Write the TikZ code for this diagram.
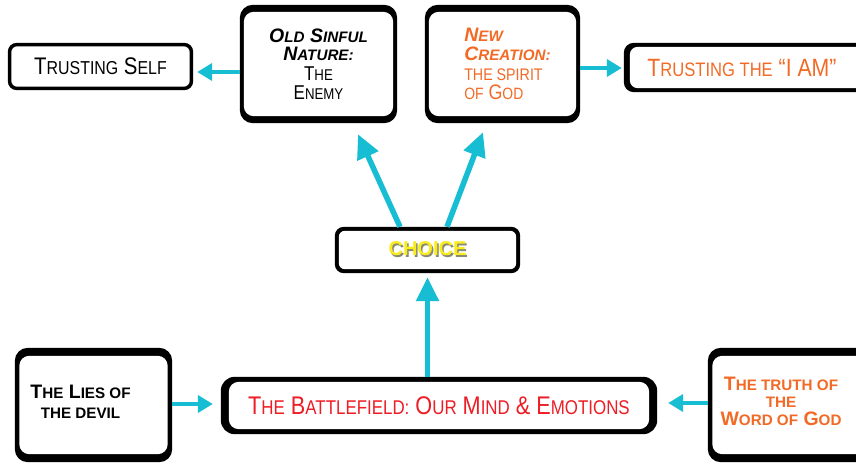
\documentclass[tikz,border=0pt]{standalone}
\usepackage{fontspec}
\setmainfont{Liberation Sans}
\newfontfamily\cond[FakeStretch=0.85]{Liberation Sans}
\usetikzlibrary{arrows.meta}
\definecolor{cy}{HTML}{17BDD3}
\definecolor{org}{HTML}{F26A25}
\definecolor{rd}{HTML}{EE1C24}
\definecolor{chy}{HTML}{F8EC1C}
\definecolor{shd}{HTML}{8A8A70}
\makeatletter
\newcommand\sm[1]{{\fontsize{\the\dimexpr0.78\dimexpr\f@size pt\relax\relax}{\f@baselineskip}\selectfont #1}}
\makeatother
\pgfdeclarelayer{bg}
\pgfsetlayers{bg,main}
% name, left, top, right, bottom band widths, south-west shift, north-east shift, outer radius, inner radius
\newcommand\frm[9]{%
  \fill[black,rounded corners=#8] ([shift={(#6)}]#1.south west) rectangle ([shift={(#7)}]#1.north east);
  \fill[white,rounded corners=#9] ([shift={(#6)},xshift=#2,yshift=#5]#1.south west) rectangle ([shift={(#7)},xshift=-#4,yshift=-#3]#1.north east);}
\begin{document}
\begin{tikzpicture}[x=1pt,y=-1pt,
  bx/.style={inner sep=0pt, align=center},
  arr/.style={draw=cy, line width=4.5pt, -{Triangle[length=15pt,width=17pt]}},
  arrb/.style={draw=cy, line width=5.5pt, -{Triangle[length=24pt,width=22pt]}}]
\useasboundingbox (0,0) rectangle (856,463);

\node[bx, minimum width=185pt, minimum height=47pt, font=\cond\fontsize{24}{28}\selectfont] (ts) at (100.5,66.5) {T\sm{RUSTING} S\sm{ELF}};

\node[bx, minimum width=157pt, minimum height=118pt, font=\fontsize{19.5}{18.5}\selectfont] (osn) at (318.5,64)
  {{\bfseries\itshape O\sm{LD} S\sm{INFUL}}\\{\bfseries\itshape N\sm{ATURE:}}\\[1.5pt]{\cond\fontsize{20}{18.5}\selectfont T\sm{HE}}\\{\cond\fontsize{20}{18.5}\selectfont E\sm{NEMY}}};

\node[bx, align=left, minimum width=145pt, minimum height=118pt, text=org, font=\fontsize{19.5}{18.5}\selectfont] (nc) at (507.5,64)
  {{\bfseries\itshape N\sm{EW}}\\{\bfseries\itshape C\sm{REATION:}}\\[1.5pt]{\cond\fontsize{21.5}{18.5}\selectfont\sm{THE SPIRIT}}\\[1pt]{\cond\fontsize{21}{18.5}\selectfont\sm{OF} G\sm{OD}}};

\node[bx, minimum width=236pt, minimum height=49pt, text=org, font=\cond\fontsize{25}{28}\selectfont] (tia) at (742,67.5) {T\sm{RUSTING THE} “I AM”};

\node[bx, minimum width=185pt, minimum height=46pt, font=\bfseries\fontsize{20}{24}\selectfont] (ch) at (427.5,250)
  {\rlap{\kern1.5pt\raisebox{-1.8pt}{\textcolor{shd}{CHOICE}}}\textcolor{chy}{CHOICE}};

\node[bx, minimum width=131pt, minimum height=114pt, font=\bfseries\fontsize{19.5}{20}\selectfont] (lies) at (80.5,402)
  {T\sm{HE} L\sm{IES OF}\\\sm{THE DEVIL}};

\node[bx, minimum width=146pt, minimum height=114pt, text=org, font=\bfseries\fontsize{19.5}{17.5}\selectfont] (truth) at (781,401)
  {T\sm{HE TRUTH OF}\\\sm{THE}\\W\sm{ORD OF} G\sm{OD}};

\node[bx, minimum width=436pt, minimum height=57pt, text=rd, font=\cond\fontsize{25.5}{28}\selectfont] (bf) at (439,405.5)
  {T\sm{HE} B\sm{ATTLEFIELD:} O\sm{UR} M\sm{IND} \& E\sm{MOTIONS}};

\begin{pgfonlayer}{bg}
  \fill[white] (0,0) rectangle (856,463);
  \frm{ts}{3.5}{3.5}{3.5}{3.5}{0,0}{0,0}{9}{6}
  \frm{osn}{4}{7}{4}{7}{0,0}{0,0}{13}{10}
  \frm{nc}{4}{7}{4}{7}{-10,0}{0,0}{13}{10}
  \frm{tia}{6}{4}{4}{4}{0,0}{40,0}{10}{8}
  \frm{ch}{4}{4}{4}{4}{0,0}{0,0}{9}{6}
  \frm{lies}{4.5}{8}{4.5}{8}{0,3}{26,3}{13}{10}
  \frm{truth}{4.5}{8}{4.5}{8}{0,4}{40,4}{13}{10}
  \frm{bf}{8}{5}{8}{5}{0,0}{0,0}{14}{10}
\end{pgfonlayer}

\draw[arr] ([yshift=-8pt]osn.west) -- ([yshift=-5.5pt,xshift=4pt]ts.east);
\draw[arr] ([yshift=-4pt]nc.east) -- ([yshift=-0.5pt,xshift=-2pt]tia.west);
\draw[arrb] ([xshift=-27.5pt]ch.north) -- ([xshift=39.5pt,yshift=-11pt]osn.south);
\draw[arrb] ([xshift=19.5pt]ch.north) -- ([xshift=-24.5pt,yshift=-9pt]nc.south);
\draw[arrb] ([xshift=-11.5pt]bf.north) -- ([yshift=-4pt]ch.south);
\draw[arr] ([xshift=26pt,yshift=-2pt]lies.east) -- ([xshift=-8pt,yshift=1.5pt]bf.west);
\draw[arr] ([yshift=-2pt]truth.west) -- ([xshift=11pt,yshift=2.5pt]bf.east);
\end{tikzpicture}
\end{document}
